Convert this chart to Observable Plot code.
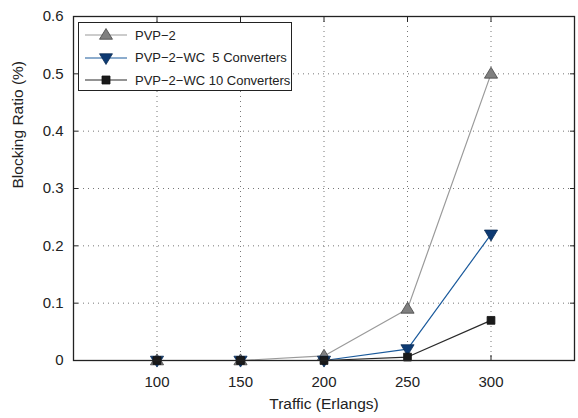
<!DOCTYPE html>
<html><head><meta charset="utf-8">
<script src="https://cdn.jsdelivr.net/npm/d3@7"></script>
<script src="https://cdn.jsdelivr.net/npm/@observablehq/plot@0.6"></script>
<style>
body{margin:0;background:#fff;font-family:"Liberation Sans",Arial,sans-serif;}
#wrap{position:relative;width:578px;height:418px;}
#legend{position:absolute;left:78px;top:22px;width:214px;height:69px;border:1.3px solid #222;background:#fff;box-sizing:border-box;font-size:13px;color:#222;}
.row{position:absolute;left:0;height:20px;display:flex;align-items:center;}
.row svg{margin-left:6px;margin-right:8px;}
</style></head>
<body><div id="wrap"><div id="chart"></div>
<div id="legend"></div></div>
<script>
const traffic = [100, 150, 200, 250, 300];
const pvp2 = [0, 0, 0.008, 0.09, 0.5];
const wc5 = [0, 0, 0, 0.02, 0.22];
const wc10 = [0, 0, 0, 0.006, 0.07];
const seriesNames = ["PVP\u22122", "PVP\u22122\u2212WC  5 Converters", "PVP\u22122\u2212WC 10 Converters"];
const xTicks = [100, 150, 200, 250, 300];
const yTicks = [0, 0.1, 0.2, 0.3, 0.4, 0.5, 0.6];

const triDown = {draw(ctx, size){const r=Math.sqrt(size/3); ctx.moveTo(-r*1.15,-r*0.75); ctx.lineTo(r*1.15,-r*0.75); ctx.lineTo(0,r*1.15); ctx.closePath();}};
const triUp = {draw(ctx, size){const r=Math.sqrt(size/3); ctx.moveTo(-r*1.15,r*0.75); ctx.lineTo(r*1.15,r*0.75); ctx.lineTo(0,-r*1.15); ctx.closePath();}};

const styles = [
  {name: seriesNames[0], vals: pvp2, line: "#9a9a9a", fill: "#808080", mstroke: "#444", sym: triUp, r: 5.6},
  {name: seriesNames[1], vals: wc5, line: "#1a5a9c", fill: "#0d3a73", mstroke: "#0d2d55", sym: triDown, r: 5.6},
  {name: seriesNames[2], vals: wc10, line: "#2a2a2a", fill: "#1a1a1a", mstroke: "#111", sym: "square", r: 4.4}
];
const rows = [];
styles.forEach((s,i)=> traffic.forEach((t,j)=> rows.push({s: i, x: t, y: s.vals[j]})));

const marks = [
  Plot.gridX(xTicks, {stroke: "#777", strokeOpacity: 1, strokeDasharray: "1,4"}),
  Plot.gridY(yTicks.slice(1, -1), {stroke: "#777", strokeOpacity: 1, strokeDasharray: "1,4"}),
  Plot.axisX(xTicks, {anchor: "bottom", tickSize: -5, tickPadding: 21, fontSize: 15, fill: "#222", stroke: "#222", label: null}),
  Plot.axisX(xTicks, {anchor: "top", tickSize: -5, tickFormat: () => "", stroke: "#222", label: null}),
  Plot.axisY(yTicks, {anchor: "left", tickSize: -5, tickPadding: 15, fontSize: 15, fill: "#222", stroke: "#222", label: null, tickFormat: d => d === 0 ? "0" : d.toFixed(1)}),
  Plot.axisY(yTicks, {anchor: "right", tickSize: -5, tickFormat: () => "", stroke: "#222", label: null})
];
[0,1,2].forEach(i => {
  const s = styles[i];
  const d = rows.filter(r => r.s === i);
  marks.push(Plot.line(d, {x: "x", y: "y", stroke: s.line, strokeWidth: 1.2}));
});
[0,1,2].forEach(i => {
  const s = styles[i];
  const d = rows.filter(r => r.s === i);
  marks.push(Plot.dot(d, {x: "x", y: "y", symbol: () => s.sym, fill: s.fill, stroke: s.mstroke, strokeWidth: 0.8, r: s.r}));
});
marks.push(Plot.frame({stroke: "#222", strokeWidth: 1.3}));
marks.push(Plot.text(["Traffic (Erlangs)"], {frameAnchor: "bottom", dy: 48, fontSize: 15.5, fill: "#222", text: d => d}));
marks.push(Plot.text(["Blocking Ratio (%)"], {frameAnchor: "left", dx: -55, rotate: -90, fontSize: 15.5, fill: "#222", text: d => d}));

const chart = Plot.plot({
  width: 578, height: 418,
  marginLeft: 73, marginRight: 4, marginTop: 16, marginBottom: 58,
  style: {fontFamily: "'Liberation Sans', Arial, sans-serif", background: "#fff", overflow: "visible"},
  x: {domain: [50, 350]},
  y: {domain: [0, 0.6]},
  symbol: {type: "identity"},
  marks
});
document.getElementById("chart").appendChild(chart);

const leg = document.getElementById("legend");
styles.forEach((s, i) => {
  const row = document.createElement("div");
  row.className = "row";
  row.style.top = (2 + i * 22.5) + "px";
  const ns = "http://www.w3.org/2000/svg";
  const svg = document.createElementNS(ns, "svg");
  svg.setAttribute("width", 42); svg.setAttribute("height", 20);
  const ln = document.createElementNS(ns, "line");
  ln.setAttribute("x1", 0); ln.setAttribute("x2", 42); ln.setAttribute("y1", 10); ln.setAttribute("y2", 10);
  ln.setAttribute("stroke", s.line); ln.setAttribute("stroke-width", 1.2);
  svg.appendChild(ln);
  const p = document.createElementNS(ns, "path");
  const sym = s.sym === "square" ? d3.symbolSquare : s.sym;
  const size = s.sym === "square" ? 64 : 95;
  p.setAttribute("d", d3.symbol(sym, size)());
  p.setAttribute("transform", "translate(21,10)");
  p.setAttribute("fill", s.fill); p.setAttribute("stroke", s.mstroke); p.setAttribute("stroke-width", 0.8);
  svg.appendChild(p);
  row.appendChild(svg);
  const t = document.createElement("span");
  t.textContent = s.name;
  t.style.whiteSpace = "pre";
  row.appendChild(t);
  leg.appendChild(row);
});
</script></body></html>
